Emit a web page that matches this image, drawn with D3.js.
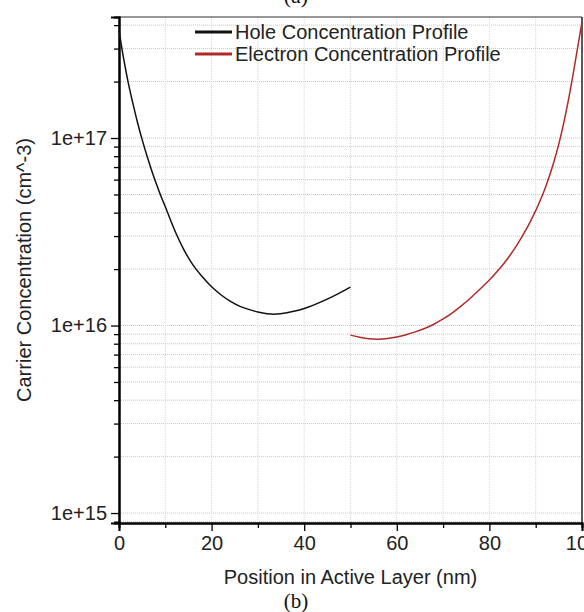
<!DOCTYPE html>
<html>
<head>
<meta charset="utf-8">
<script src="https://cdn.jsdelivr.net/npm/d3@7"></script>
<style>
  html, body { margin: 0; padding: 0; background: #fff; }
  svg { display: block; }
  text { font-family: "Liberation Sans", Arial, sans-serif; fill: #222; }
</style>
</head>
<body>
<svg id="chart" width="584" height="612"></svg>
<script>
// ---- data ----
const holeX = [0, 1, 2, 3, 4, 5, 6, 7, 8, 9, 10, 12, 14, 16, 18, 20, 22, 24, 26, 28, 30, 32, 34, 36, 38, 40, 42, 44, 46, 48, 50];
const holeY = [3.75e17, 2.65e17, 1.97e17, 1.53e17, 1.21e17, 9.8e16, 8.09e16, 6.78e16, 5.75e16, 4.94e16, 4.30e16,
               3.23e16, 2.54e16, 2.10e16, 1.82e16, 1.61e16, 1.46e16, 1.35e16, 1.27e16, 1.22e16, 1.18e16,
               1.156e16, 1.151e16, 1.167e16, 1.194e16, 1.233e16, 1.285e16, 1.349e16, 1.422e16, 1.507e16, 1.603e16];
const electronX = [50, 52, 54, 56, 58, 60, 62, 64, 66, 68, 70, 72, 74, 76, 78, 80, 82, 84, 86, 88, 90, 91, 92, 93, 94, 95, 96, 97, 98, 99, 100];
const electronY = [8.89e15, 8.65e15, 8.49e15, 8.45e15, 8.53e15, 8.69e15, 8.93e15, 9.25e15, 9.64e15, 1.016e16, 1.084e16,
                   1.169e16, 1.276e16, 1.406e16, 1.567e16, 1.75e16, 1.982e16, 2.286e16, 2.698e16, 3.273e16, 4.102e16,
                   4.656e16, 5.37e16, 6.31e16, 7.57e16, 9.31e16, 1.186e17, 1.563e17, 2.133e17, 2.979e17, 4.159e17];
const seriesNames = ["Hole Concentration Profile", "Electron Concentration Profile"];
const seriesColors = ["#111111", "#b02a2a"];
const xMajorTicks = [0, 20, 40, 60, 80, 100];
const xTickLabels = ["0", "20", "40", "60", "80", "100"];
const xMinorTicks = [10, 30, 50, 70, 90];
const xGrid = [10, 20, 30, 40, 50, 60, 70, 80, 90];
const yMajorTicks = [1e15, 1e16, 1e17];
const yTickLabels = ["1e+15", "1e+16", "1e+17"];
const xTitle = "Position in Active Layer (nm)";
const yTitle = "Carrier Concentration (cm^-3)";
const xDomain = [0, 100];
const yDomain = [8.85e14, 4.42e17];

// ---- layout ----
const L = 119, R = 582, T = 17, B = 523;
const svg = d3.select("#chart");

const x = d3.scaleLinear().domain(xDomain).range([L, R]);
const y = d3.scaleLog().domain(yDomain).range([B, T]);
const yMinor = y.ticks().filter(v => !yMajorTicks.some(m => Math.abs(m - v) / m < 1e-9));

// captions (a)/(b)
svg.append("text").attr("x", 296).attr("y", 3).attr("text-anchor", "middle")
  .style("font-family", "'Liberation Serif', 'Times New Roman', serif").style("font-size", "22px").style("fill", "#111")
  .text("(a)");
svg.append("text").attr("x", 296).attr("y", 608).attr("text-anchor", "middle")
  .style("font-family", "'Liberation Serif', 'Times New Roman', serif").style("font-size", "21px").style("fill", "#111")
  .text("(b)");

// gridlines
const grid = svg.append("g");
grid.selectAll("line.hg").data(y.ticks()).enter().append("line")
  .attr("x1", L).attr("x2", R).attr("y1", d => y(d)).attr("y2", d => y(d))
  .attr("stroke", "#c8c8c8").attr("stroke-width", 1).attr("stroke-dasharray", "1,1");
grid.selectAll("line.vg").data(xGrid).enter().append("line")
  .attr("x1", d => x(d)).attr("x2", d => x(d)).attr("y1", T).attr("y2", B)
  .attr("stroke", "#d6d6d6").attr("stroke-width", 1).attr("stroke-dasharray", "1,1");

// frame (top, right)
svg.append("line").attr("x1", L).attr("x2", R).attr("y1", T).attr("y2", T).attr("stroke", "#333").attr("stroke-width", 1.2);
svg.append("line").attr("x1", R).attr("x2", R).attr("y1", T).attr("y2", B).attr("stroke", "#222").attr("stroke-width", 1.5);

// axes
const yAxisMajor = d3.axisLeft(y).tickValues(yMajorTicks).tickSize(8).tickPadding(4)
  .tickFormat((d, i) => yTickLabels[i]);
const yAxisMinor = d3.axisLeft(y).tickValues(yMinor).tickSize(5).tickFormat("");
const xAxisMajor = d3.axisBottom(x).tickValues(xMajorTicks).tickSize(8).tickPadding(5)
  .tickFormat((d, i) => xTickLabels[i]);
const xAxisMinor = d3.axisBottom(x).tickValues(xMinorTicks).tickSize(5).tickFormat("");

function styleAxis(g) {
  g.select(".domain").attr("stroke", "#000").attr("stroke-width", 2);
  g.selectAll(".tick line").attr("stroke", "#000").attr("stroke-width", 1.3);
  g.selectAll(".tick text").style("font-size", "20px").style("font-family", "'Liberation Sans', Arial, sans-serif").attr("fill", "#222");
}
svg.append("g").attr("transform", `translate(${L},0)`).call(yAxisMinor).call(styleAxis);
svg.append("g").attr("transform", `translate(${L},0)`).call(yAxisMajor).call(styleAxis);
svg.append("g").attr("transform", `translate(0,${B})`).call(xAxisMinor).call(styleAxis);
svg.append("g").attr("transform", `translate(0,${B})`).call(xAxisMajor).call(styleAxis);

// axis titles
svg.append("text").attr("x", (L + R) / 2).attr("y", 584).attr("text-anchor", "middle")
  .style("font-size", "20px").text(xTitle);
svg.append("text").attr("transform", `translate(24,${(T + B) / 2}) rotate(-90)`).attr("dy", "0.35em")
  .attr("text-anchor", "middle").style("font-size", "20px").text(yTitle);

// curves
const line = d3.line().x(d => x(d[0])).y(d => y(d[1])).curve(d3.curveCatmullRom.alpha(0.5));
const holeData = holeX.map((v, i) => [v, holeY[i]]);
const elecData = electronX.map((v, i) => [v, electronY[i]]);
const plot = svg.append("g");
plot.append("path").datum(holeData).attr("d", line).attr("fill", "none")
  .attr("stroke", seriesColors[0]).attr("stroke-width", 1.5);
plot.append("path").datum(elecData).attr("d", line).attr("fill", "none")
  .attr("stroke", seriesColors[1]).attr("stroke-width", 1.5);

// legend
const legend = svg.append("g");
seriesNames.forEach((name, i) => {
  const ly = 32 + i * 22;
  legend.append("line").attr("x1", 195).attr("x2", 232).attr("y1", ly).attr("y2", ly)
    .attr("stroke", seriesColors[i]).attr("stroke-width", 3);
  legend.append("text").attr("x", 235).attr("y", ly).attr("dy", "0.35em")
    .style("font-size", "20px").text(name);
});
</script>
</body>
</html>
